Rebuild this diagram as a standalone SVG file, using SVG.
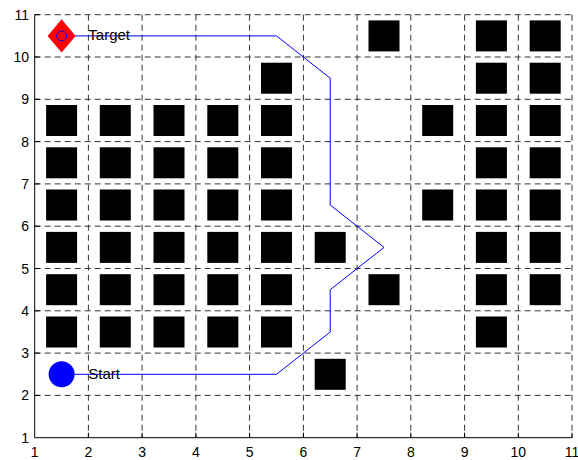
<svg xmlns="http://www.w3.org/2000/svg" xmlns:xlink="http://www.w3.org/1999/xlink" width="578" height="460" viewBox="0 0 578 460">
<style>
.grid{stroke:#333;stroke-width:1;stroke-dasharray:6,4;fill:none}
.axis{stroke:#000;stroke-width:1;fill:none}
.tick{stroke:#000;stroke-width:1}
.tl{font-family:"Liberation Sans",Arial,sans-serif;font-size:14px;fill:#000}
.lbl{font-family:"Liberation Sans",Arial,sans-serif;font-size:15px;fill:#000}
.path{stroke:#0000ff;stroke-width:1;fill:none}
</style>
<defs>
<rect id="ob" x="-15.5" y="-15.5" width="31" height="31" fill="#000"/>
</defs>
<rect width="578" height="460" fill="#fff"/>
<g id="grid">
<path class="grid" d="M88.4 14.7V437.7M142.1 14.7V437.7M195.9 14.7V437.7M249.6 14.7V437.7M303.4 14.7V437.7M357.1 14.7V437.7M410.8 14.7V437.7M464.6 14.7V437.7M518.3 14.7V437.7M572 14.7V437.7"/>
<path class="grid" d="M34.7 14.7H572M34.7 57H572M34.7 99.3H572M34.7 141.6H572M34.7 183.9H572M34.7 226.2H572M34.7 268.5H572M34.7 310.8H572M34.7 353.1H572M34.7 395.4H572"/>
</g>
<g id="axes">
<path class="axis" d="M34.7 14.7V437.7H572"/>
<path class="tick" d="M88.4 437.7v-5M142.1 437.7v-5M195.9 437.7v-5M249.6 437.7v-5M303.4 437.7v-5M357.1 437.7v-5M410.8 437.7v-5M464.6 437.7v-5M518.3 437.7v-5M572 437.7v-5M34.7 14.7h5M34.7 57h5M34.7 99.3h5M34.7 141.6h5M34.7 183.9h5M34.7 226.2h5M34.7 268.5h5M34.7 310.8h5M34.7 353.1h5M34.7 395.4h5"/>
<g class="tl" text-anchor="middle">
<text x="34.7" y="457">1</text><text x="88.4" y="457">2</text><text x="142.1" y="457">3</text><text x="195.9" y="457">4</text><text x="249.6" y="457">5</text><text x="303.4" y="457">6</text><text x="357.1" y="457">7</text><text x="410.8" y="457">8</text><text x="464.6" y="457">9</text><text x="518.3" y="457">10</text><text x="572" y="457">11</text>
</g>
<g class="tl" text-anchor="end">
<text x="29" y="19.7">11</text><text x="29" y="62">10</text><text x="29" y="104.3">9</text><text x="29" y="146.6">8</text><text x="29" y="188.9">7</text><text x="29" y="231.2">6</text><text x="29" y="273.5">5</text><text x="29" y="315.8">4</text><text x="29" y="358.1">3</text><text x="29" y="400.4">2</text><text x="29" y="442.7">1</text>
</g>
</g>
<g id="obstacles">
<use xlink:href="#ob" x="384" y="35.9"/><use xlink:href="#ob" x="491.4" y="35.9"/><use xlink:href="#ob" x="545.2" y="35.9"/>
<use xlink:href="#ob" x="276.5" y="78.2"/><use xlink:href="#ob" x="491.4" y="78.2"/><use xlink:href="#ob" x="545.2" y="78.2"/>
<use xlink:href="#ob" x="61.6" y="120.5"/><use xlink:href="#ob" x="115.3" y="120.5"/><use xlink:href="#ob" x="169" y="120.5"/><use xlink:href="#ob" x="222.8" y="120.5"/><use xlink:href="#ob" x="276.5" y="120.5"/><use xlink:href="#ob" x="437.7" y="120.5"/><use xlink:href="#ob" x="491.4" y="120.5"/><use xlink:href="#ob" x="545.2" y="120.5"/>
<use xlink:href="#ob" x="61.6" y="162.8"/><use xlink:href="#ob" x="115.3" y="162.8"/><use xlink:href="#ob" x="169" y="162.8"/><use xlink:href="#ob" x="222.8" y="162.8"/><use xlink:href="#ob" x="276.5" y="162.8"/><use xlink:href="#ob" x="491.4" y="162.8"/><use xlink:href="#ob" x="545.2" y="162.8"/>
<use xlink:href="#ob" x="61.6" y="205"/><use xlink:href="#ob" x="115.3" y="205"/><use xlink:href="#ob" x="169" y="205"/><use xlink:href="#ob" x="222.8" y="205"/><use xlink:href="#ob" x="276.5" y="205"/><use xlink:href="#ob" x="437.7" y="205"/><use xlink:href="#ob" x="491.4" y="205"/><use xlink:href="#ob" x="545.2" y="205"/>
<use xlink:href="#ob" x="61.6" y="247.4"/><use xlink:href="#ob" x="115.3" y="247.4"/><use xlink:href="#ob" x="169" y="247.4"/><use xlink:href="#ob" x="222.8" y="247.4"/><use xlink:href="#ob" x="276.5" y="247.4"/><use xlink:href="#ob" x="330.2" y="247.4"/><use xlink:href="#ob" x="491.4" y="247.4"/><use xlink:href="#ob" x="545.2" y="247.4"/>
<use xlink:href="#ob" x="61.6" y="289.7"/><use xlink:href="#ob" x="115.3" y="289.7"/><use xlink:href="#ob" x="169" y="289.7"/><use xlink:href="#ob" x="222.8" y="289.7"/><use xlink:href="#ob" x="276.5" y="289.7"/><use xlink:href="#ob" x="384" y="289.7"/><use xlink:href="#ob" x="491.4" y="289.7"/><use xlink:href="#ob" x="545.2" y="289.7"/>
<use xlink:href="#ob" x="61.6" y="332"/><use xlink:href="#ob" x="115.3" y="332"/><use xlink:href="#ob" x="169" y="332"/><use xlink:href="#ob" x="222.8" y="332"/><use xlink:href="#ob" x="276.5" y="332"/><use xlink:href="#ob" x="491.4" y="332"/>
<use xlink:href="#ob" x="330.2" y="374.3"/>
</g>
<g id="connectors">
<polyline class="path" points="61.6,374.3 276.5,374.3 330.2,332 330.2,289.7 384,247.4 330.2,205 330.2,78.2 276.5,35.9 61.6,35.9"/>
</g>
<g id="start">
<circle cx="61.6" cy="374.3" r="13" fill="#0000ff"/>
<text class="lbl" x="88.3" y="378.5">Start</text>
</g>
<g id="target">
<polygon points="61.6,19.3 75.6,35.9 61.6,52.5 47.6,35.9" fill="#ff0000"/>
<circle cx="61.6" cy="35.9" r="5" fill="none" stroke="#0000ff" stroke-width="1"/>
<text class="lbl" x="88.3" y="40">Target</text>
</g>
</svg>
